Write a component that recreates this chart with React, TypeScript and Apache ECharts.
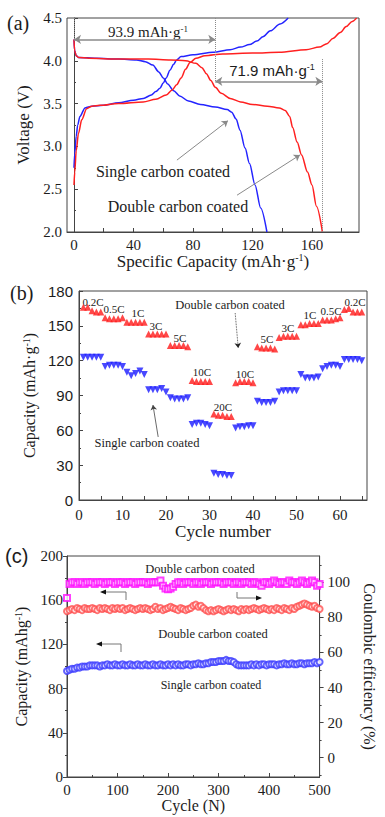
import React, { useEffect, useRef } from 'react';
import * as echarts from 'echarts';

const SERIF = "Liberation Serif, Times New Roman, serif";
const SANS = "Liberation Sans, Arial, sans-serif";
const INK = '#1c1c1c';
const AXIS = '#444';

// ---------- Panel (a): voltage profiles [capacity, voltage] ----------
const singleCharge: number[][] = [
  [0, 2.75], [0.5, 2.92], [1.5, 3.12], [2.5, 3.25], [4, 3.35], [7.4, 3.45], [12, 3.47], [19.7, 3.48],
  [30, 3.51], [40, 3.54], [46.6, 3.56], [52, 3.6], [55, 3.64], [57.8, 3.68], [60, 3.74], [62, 3.8],
  [64.5, 3.89], [67, 3.96], [69, 4.01], [72, 4.05], [80, 4.07], [93.6, 4.1], [105, 4.13], [112, 4.16],
  [118, 4.19], [123, 4.23], [127, 4.28], [132, 4.35], [138.5, 4.43], [144, 4.5],
];
const singleDischarge: number[][] = [
  [0, 4.25], [0.4, 4.12], [1.5, 4.06], [3, 4.04], [15, 4.03], [30, 4.02], [42, 4.01], [48, 3.99],
  [53, 3.95], [57, 3.87], [60, 3.8], [63, 3.73], [67, 3.65], [71, 3.59], [77, 3.53], [85, 3.49],
  [95, 3.46], [103, 3.43], [106, 3.4], [109, 3.32], [111.6, 3.19], [115, 2.98], [118, 2.8],
  [121.7, 2.55], [125.5, 2.28], [129.7, 2.0],
];
const doubleCharge: number[][] = [
  [0, 2.55], [0.5, 2.7], [1.5, 2.95], [3, 3.15], [5.2, 3.31], [8.5, 3.44], [12, 3.47], [17.5, 3.48],
  [30, 3.5], [46.5, 3.52], [55, 3.55], [62, 3.6], [66, 3.66], [69, 3.72], [72, 3.8], [75, 3.9],
  [78, 3.98], [82, 4.03], [88, 4.06], [100, 4.08], [120, 4.09], [138, 4.1], [156, 4.13], [165, 4.16],
  [170, 4.2], [174, 4.26], [179, 4.33], [183, 4.4], [187, 4.46], [190, 4.5],
];
const doubleDischarge: number[][] = [
  [0, 4.25], [0.4, 4.12], [1.5, 4.06], [3, 4.04], [10, 4.03], [30, 4.02], [50, 4.02], [65, 4.01],
  [75, 4.0], [82, 3.97], [86, 3.92], [89, 3.85], [92, 3.77], [95, 3.69], [99, 3.62], [105, 3.56],
  [112, 3.52], [120, 3.49], [130, 3.47], [138, 3.45], [142, 3.42], [145, 3.35], [147, 3.22],
  [150, 3.05], [153, 2.9], [157, 2.7], [160, 2.55], [163, 2.3], [167, 2.0],
];
const aXLabels = [0, 40, 80, 120, 160];
const aXTicks = [0, 20, 40, 60, 80, 100, 120, 140, 160, 180];

// ---------- Panel (b): rate capability ----------
const rateCycles = [
  1, 2, 3, 4, 5, 6, 7, 8, 9, 10, 11, 12, 13, 14, 15, 16, 17, 18, 19, 20, 21, 22, 23, 24, 25,
  26, 27, 28, 29, 30, 31, 32, 33, 34, 35, 36, 37, 38, 39, 40, 41, 42, 43, 44, 45, 46, 47, 48, 49, 50,
  51, 52, 53, 54, 55, 56, 57, 58, 59, 60, 61, 62, 63, 64, 65,
];
const rateDouble = [
  166, 166, 163, 162, 162, 157, 156, 156, 156, 157, 153, 153, 153, 153, 153,
  143, 143, 143, 143, 143, 133, 133, 133, 133, 132, 103, 102, 102, 102, 102,
  74, 73, 73, 72, 72, 101, 102, 102, 102, 101, 132, 131, 131, 131, 130,
  140, 141, 141, 141, 141, 151, 151, 152, 152, 152, 155, 155, 155, 156, 157,
  164, 165, 162, 162, 162,
];
const rateSingle = [
  123, 123, 123, 123, 123, 115, 116, 116, 116, 115, 110, 107, 109, 111, 108,
  95, 95, 95, 96, 93, 88, 87, 87, 87, 88, 65, 66, 66, 65, 64,
  23, 22, 22, 21, 21, 62, 63, 63, 64, 64, 85, 84, 84, 84, 85,
  93, 94, 94, 94, 94, 108, 105, 105, 105, 106, 113, 115, 116, 116, 115,
  121, 121, 121, 121, 120,
];
const bXLabels = [0, 10, 20, 30, 40, 50, 60];
const bXTicks = [0, 5, 10, 15, 20, 25, 30, 35, 40, 45, 50, 55, 60, 65];
const rateTexts = ['0.2C', '0.5C', '1C', '3C', '5C', '10C', '20C', '10C', '5C', '3C', '1C', '0.5C', '0.2C'];

// ---------- Panel (c): long cycling (every 5th cycle) ----------
const longCycles = [
  0, 5, 10, 15, 20, 25, 30, 35, 40, 45, 50, 55, 60, 65, 70, 75, 80, 85, 90, 95, 100,
  105, 110, 115, 120, 125, 130, 135, 140, 145, 150, 155, 160, 165, 170, 175, 180, 185, 190, 195, 200,
  205, 210, 215, 220, 225, 230, 235, 240, 245, 250, 255, 260, 265, 270, 275, 280, 285, 290, 295, 300,
  305, 310, 315, 320, 325, 330, 335, 340, 345, 350, 355, 360, 365, 370, 375, 380, 385, 390, 395, 400,
  405, 410, 415, 420, 425, 430, 435, 440, 445, 450, 455, 460, 465, 470, 475, 480, 485, 490, 495, 500,
];
const coulombic = [
  91, 99, 100, 100, 99, 100, 100, 99, 100, 100, 100,
  99, 100, 100, 100, 99, 100, 100, 100, 99, 100,
  100, 100, 99, 100, 100, 100, 99, 100, 100, 100,
  100, 99, 100, 100, 100, 100, 101, 98, 96.5, 96,
  96.5, 97.5, 99, 100, 100, 99, 100, 100, 100, 99,
  100, 100, 99, 100, 100, 100, 99, 100, 100, 100,
  100, 99, 100, 100, 100, 99, 100, 100, 99, 100,
  100, 100, 99, 100, 100, 99, 98, 100, 100, 99,
  100, 101, 100, 99, 100, 100, 99, 101, 100, 100,
  99, 100, 101, 100, 99, 100, 101, 100, 98, 99,
];
const capDouble = [
  150, 151, 152, 151, 153, 152, 151, 153, 152, 152, 153,
  152, 151, 153, 152, 153, 152, 151, 153, 152, 153,
  152, 153, 151, 152, 153, 152, 151, 152, 153, 152,
  153, 152, 151, 152, 154, 152, 153, 151, 152, 153,
  154, 153, 152, 151, 153, 152, 151, 152, 153, 155,
  156, 154, 155, 153, 151, 150, 151, 150, 151, 152,
  151, 150, 151, 152, 151, 152, 151, 150, 152, 151,
  152, 151, 152, 153, 152, 151, 152, 153, 152, 151,
  152, 151, 153, 152, 151, 153, 152, 151, 153, 152,
  154, 155, 156, 157, 156, 155, 154, 155, 153, 152,
];
const capSingle = [
  96, 97, 98, 98, 99, 99, 100, 100, 100, 101, 101,
  101, 101, 100, 101, 101, 102, 101, 101, 102, 101,
  101, 102, 101, 101, 102, 101, 101, 102, 101, 101,
  102, 101, 101, 102, 101, 101, 102, 101, 101, 102,
  101, 102, 101, 102, 101, 101, 102, 102, 101, 102,
  102, 103, 102, 102, 103, 103, 104, 104, 104, 105,
  105, 105, 106, 105, 105, 104, 102, 101, 101, 101,
  101, 101, 102, 101, 102, 101, 102, 102, 101, 102,
  102, 102, 101, 102, 102, 103, 102, 102, 103, 102,
  102, 103, 103, 102, 103, 103, 103, 104, 103, 104,
];
const cRightLabels = [0, 20, 40, 60, 80, 100];
const cRightMinor = [-10, 10, 30, 50, 70, 90, 110];

const sup = (size: number, family: string) => ({
  s: { fontSize: size, fontFamily: family, verticalAlign: 'top' as const, color: INK },
});

const txt = (x: number, y: number, text: string, size: number, family: string, extra: any = {}) => ({
  type: 'text',
  x,
  y,
  silent: true,
  style: {
    text,
    fontSize: size,
    fontFamily: family,
    fill: INK,
    align: 'center',
    verticalAlign: 'middle',
    ...extra,
  },
});

const elbow = (pts: number[][], head: number[][]) => [
  { type: 'polyline', silent: true, shape: { points: pts }, style: { stroke: '#777', lineWidth: 1, fill: 'none' } },
  { type: 'polygon', silent: true, shape: { points: head }, style: { fill: '#111' } },
];

export default function App() {
  const ref = useRef<HTMLDivElement>(null);

  useEffect(() => {
    document.body.style.margin = '0';
    if (!ref.current) return;
    const chart = echarts.init(ref.current, undefined, { renderer: 'svg' });

    const axisBase = {
      axisLine: { show: true, lineStyle: { color: AXIS, width: 1 } },
      splitLine: { show: false },
    };
    const lbl = (family: string, size: number, margin: number, extra: any = {}) => ({
      fontFamily: family,
      fontSize: size,
      color: INK,
      margin,
      ...extra,
    });
    const nameStyle = (size: number, family = SERIF) => ({
      fontFamily: family,
      fontSize: size,
      color: INK,
      rich: sup(10, family),
    });
    const gray = { color: '#8a8a8a', width: 1 };
    const dotted = { type: 'dotted', color: '#8a8a8a', width: 1 };

    const option: any = {
      animation: false,
      backgroundColor: '#fff',
      textStyle: { fontFamily: SERIF, color: INK },
      grid: [
        { left: 67, top: 18, width: 292, height: 214, show: true, borderColor: AXIS, borderWidth: 1, backgroundColor: 'transparent' },
        { left: 79, top: 291, width: 288, height: 209, show: true, borderColor: AXIS, borderWidth: 1, backgroundColor: 'transparent' },
        { left: 67, top: 556, width: 270, height: 221, show: true, borderColor: AXIS, borderWidth: 1, backgroundColor: 'transparent' },
      ],
      xAxis: [
        {
          ...axisBase,
          gridIndex: 0,
          type: 'value',
          min: -4.7,
          max: 191.6,
          axisTick: { inside: true, length: 4, customValues: aXTicks, lineStyle: { color: AXIS } },
          axisLabel: { ...lbl(SERIF, 15, 5), customValues: aXLabels },
          name: 'Specific Capacity (mAh·g{s|-1})',
          nameLocation: 'middle',
          nameGap: 18,
          nameTextStyle: nameStyle(17),
        },
        {
          ...axisBase,
          gridIndex: 1,
          type: 'value',
          min: 0,
          max: 66.2,
          axisTick: { inside: true, length: 4, customValues: bXTicks, lineStyle: { color: AXIS } },
          axisLabel: { ...lbl(SERIF, 15, 7), customValues: bXLabels },
          name: 'Cycle number',
          nameLocation: 'middle',
          nameGap: 22,
          nameTextStyle: nameStyle(17),
        },
        {
          ...axisBase,
          gridIndex: 2,
          type: 'value',
          min: 0,
          max: 500,
          interval: 100,
          axisTick: { inside: true, length: 4, lineStyle: { color: AXIS } },
          minorTick: { show: true, splitNumber: 2, length: 2, lineStyle: { color: AXIS } },
          axisLabel: lbl(SERIF, 15, 5),
          name: 'Cycle (N)',
          nameLocation: 'middle',
          nameGap: 20,
          nameTextStyle: nameStyle(16),
        },
      ],
      yAxis: [
        {
          ...axisBase,
          gridIndex: 0,
          type: 'value',
          min: 2,
          max: 4.5,
          interval: 0.5,
          axisTick: { inside: true, length: 4, lineStyle: { color: AXIS } },
          minorTick: { show: true, splitNumber: 2, length: 2, lineStyle: { color: AXIS } },
          axisLabel: { ...lbl(SERIF, 15, 5), formatter: (v: number) => v.toFixed(1) },
          name: 'Voltage (V)',
          nameLocation: 'middle',
          nameRotate: 90,
          nameGap: 33,
          nameTextStyle: nameStyle(17),
        },
        {
          ...axisBase,
          gridIndex: 1,
          type: 'value',
          min: 0,
          max: 180,
          interval: 30,
          axisTick: { inside: true, length: 4, lineStyle: { color: AXIS } },
          minorTick: { show: true, splitNumber: 2, length: 2, lineStyle: { color: AXIS } },
          axisLabel: lbl(SANS, 15, 6),
          name: 'Capacity (mAh·g{s|-1})',
          nameLocation: 'middle',
          nameRotate: 90,
          nameGap: 34,
          nameTextStyle: nameStyle(16),
        },
        {
          ...axisBase,
          gridIndex: 2,
          type: 'value',
          min: 0,
          max: 200,
          interval: 40,
          axisTick: { inside: false, length: 4, lineStyle: { color: AXIS } },
          minorTick: { show: true, splitNumber: 2, length: 2, lineStyle: { color: AXIS } },
          axisLabel: lbl(SERIF, 15, 4),
          name: 'Capacity (mAhg{s|-1})',
          nameLocation: 'middle',
          nameRotate: 90,
          nameGap: 33,
          nameTextStyle: nameStyle(16),
        },
        {
          ...axisBase,
          gridIndex: 2,
          type: 'value',
          position: 'right',
          min: -11,
          max: 115,
          axisTick: { inside: false, length: 4, customValues: cRightLabels, lineStyle: { color: AXIS } },
          axisLabel: { ...lbl(SERIF, 15, 8), customValues: cRightLabels },
          name: 'Coulombic efficiency (%)',
          nameLocation: 'middle',
          nameRotate: -90,
          nameGap: 37,
          nameTextStyle: nameStyle(16),
        },
        {
          gridIndex: 2,
          type: 'value',
          position: 'right',
          min: -11,
          max: 115,
          axisLine: { show: false },
          splitLine: { show: false },
          axisLabel: { show: false },
          axisTick: { inside: false, length: 2, customValues: cRightMinor, lineStyle: { color: AXIS } },
        },
      ],
      series: [
        {
          type: 'line', xAxisIndex: 0, yAxisIndex: 0, data: singleCharge, showSymbol: false,
          smooth: 0.3, smoothMonotone: 'x', lineStyle: { color: '#2424ff', width: 1.5 }, z: 3,
          markLine: {
            silent: true,
            symbolSize: 7,
            label: { show: false },
            data: [
              [{ coord: [0, 4.5], symbol: 'none', lineStyle: dotted }, { coord: [0, 4.25], symbol: 'none' }],
              [{ coord: [95, 4.5], symbol: 'none', lineStyle: dotted }, { coord: [95, 3.76], symbol: 'none' }],
              [{ coord: [167, 4.02], symbol: 'none', lineStyle: dotted }, { coord: [167, 2.0], symbol: 'none' }],
              [{ coord: [0, 4.25], symbol: 'arrow', lineStyle: { ...gray, width: 1.5, type: 'solid' } }, { coord: [95, 4.25], symbol: 'arrow' }],
              [{ coord: [95, 3.76], symbol: 'arrow', lineStyle: { ...gray, width: 1.5, type: 'solid' } }, { coord: [167, 3.76], symbol: 'arrow' }],
              [{ coord: [69.2, 2.84], symbol: 'none', lineStyle: { ...gray, type: 'solid' } }, { coord: [103.5, 3.3], symbol: 'arrow', symbolSize: 6 }],
              [{ coord: [109.6, 2.43], symbol: 'none', lineStyle: { ...gray, type: 'solid' } }, { coord: [151.9, 2.9], symbol: 'arrow', symbolSize: 6 }],
            ],
          },
        },
        {
          type: 'line', xAxisIndex: 0, yAxisIndex: 0, data: singleDischarge, showSymbol: false,
          smooth: 0.3, smoothMonotone: 'x', lineStyle: { color: '#2424ff', width: 1.5 }, z: 3,
        },
        {
          type: 'line', xAxisIndex: 0, yAxisIndex: 0, data: doubleCharge, showSymbol: false,
          smooth: 0.3, smoothMonotone: 'x', lineStyle: { color: '#ff2020', width: 1.5 }, z: 3,
        },
        {
          type: 'line', xAxisIndex: 0, yAxisIndex: 0, data: doubleDischarge, showSymbol: false,
          smooth: 0.3, smoothMonotone: 'x', lineStyle: { color: '#ff2020', width: 1.5 }, z: 3,
        },
        {
          type: 'scatter', xAxisIndex: 1, yAxisIndex: 1,
          data: rateCycles.map((c, i) => [c, rateDouble[i]]),
          symbol: 'triangle', symbolSize: 7, itemStyle: { color: '#ff1a1a' },
          markLine: {
            silent: true,
            symbolSize: 5,
            label: { show: false },
            lineStyle: { color: '#222', width: 0.8, type: 'dotted' },
            data: [
              [{ coord: [35.9, 161], symbol: 'none' }, { coord: [36.6, 131], symbol: 'arrow' }],
              [{ coord: [18.2, 54.3], symbol: 'none', lineStyle: { type: 'solid', color: '#444' } }, { coord: [17.0, 81.8], symbol: 'arrow' }],
            ],
          },
        },
        {
          type: 'scatter', xAxisIndex: 1, yAxisIndex: 1,
          data: rateCycles.map((c, i) => [c, rateSingle[i]]),
          symbol: 'triangle', symbolRotate: 180, symbolSize: 7, itemStyle: { color: '#1a1aff' },
        },
        {
          type: 'scatter', xAxisIndex: 2, yAxisIndex: 2,
          data: longCycles.map((c, i) => [c, capDouble[i]]),
          symbol: 'emptyCircle', symbolSize: 6, itemStyle: { color: '#ff5050', borderWidth: 1 },
        },
        {
          type: 'scatter', xAxisIndex: 2, yAxisIndex: 2,
          data: longCycles.map((c, i) => [c, capSingle[i]]),
          symbol: 'emptyCircle', symbolSize: 6, itemStyle: { color: '#3c3cff', borderWidth: 1 },
        },
        {
          type: 'scatter', xAxisIndex: 2, yAxisIndex: 3,
          data: longCycles.map((c, i) => [c, coulombic[i]]),
          symbol: 'emptyRect', symbolSize: 6, itemStyle: { color: '#ff10ff', borderWidth: 1.5 },
        },
      ],
      graphic: [
        // panel letters
        txt(7, 23, '(a)', 20, SERIF, { align: 'left' }),
        txt(10, 293, '(b)', 20, SERIF, { align: 'left' }),
        txt(5, 556, '(c)', 20, SANS, { align: 'left' }),
        // panel (a)
        txt(148, 32, '93.9 mAh·g{s|-1}', 15, SERIF, { rich: sup(9, SERIF) }),
        txt(272, 70, '71.9 mAh·g{s|-1}', 15, SANS, { rich: sup(9, SANS) }),
        txt(163, 171, 'Single carbon coated', 16, SERIF),
        txt(178, 206, 'Double carbon coated', 16, SERIF),
        // panel (b)
        txt(93, 302, rateTexts[0], 11, SERIF),
        txt(114, 309, rateTexts[1], 11, SERIF),
        txt(138, 313, rateTexts[2], 11, SERIF),
        txt(156, 326, rateTexts[3], 11, SERIF),
        txt(180, 338, rateTexts[4], 11, SERIF),
        txt(202, 372, rateTexts[5], 11, SERIF),
        txt(223, 407, rateTexts[6], 11, SERIF),
        txt(245, 374, rateTexts[7], 11, SERIF),
        txt(267, 339, rateTexts[8], 11, SERIF),
        txt(288, 328, rateTexts[9], 11, SERIF),
        txt(310, 315, rateTexts[10], 11, SERIF),
        txt(331, 311, rateTexts[11], 11, SERIF),
        txt(355, 302, rateTexts[12], 11, SERIF),
        txt(230, 305, 'Double carbon coated', 12.5, SERIF),
        txt(147, 443, 'Single carbon coated', 12.5, SERIF),
        // panel (c)
        txt(200, 569, 'Double carbon coated', 12.5, SERIF),
        txt(213, 634, 'Double carbon coated', 12.5, SERIF),
        txt(211, 685, 'Single carbon coated', 12, SERIF),
        ...elbow([[126, 600], [126, 592], [104, 592]], [[100, 592], [106, 589.5], [106, 594.5]]),
        ...elbow([[121, 652], [121, 644], [100, 644]], [[96, 644], [102, 641.5], [102, 646.5]]),
        ...elbow([[237, 592], [237, 598], [258, 598]], [[262, 598], [256, 595.5], [256, 600.5]]),
      ],
    };

    chart.setOption(option);
    return () => chart.dispose();
  }, []);

  return <div ref={ref} style={{ width: 385, height: 817 }} />;
}
